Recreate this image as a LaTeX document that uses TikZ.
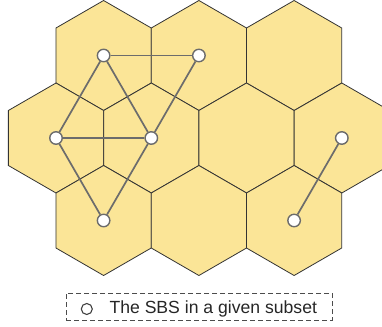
\documentclass[tikz,border=0pt]{standalone}
\usepackage{fontspec}
\setmainfont{Liberation Sans}
\usetikzlibrary{positioning}
\definecolor{cellfill}{RGB}{251,229,151}
\definecolor{linkgray}{RGB}{108,108,108}
\tikzset{>=latex}
\tikzset{cell/.style={fill=cellfill, draw=black!80, line width=0.8pt}}
\tikzset{sbs/.style={circle, draw=linkgray, fill=white, line width=1.4pt, minimum size=12.5pt, inner sep=0pt}}
\tikzset{link/.style={draw=linkgray, line width=1.7pt}}

\begin{document}
\begin{tikzpicture}[x=1pt, y=-1pt]
    \useasboundingbox (0, 0) rectangle (382, 326);
    % hexagonal cells
    \foreach \cx/\cy in {103.6/55.5, 198.9/55.5, 294.1/55.5, 56/138, 151.3/138, 246.5/138, 341.8/138, 103.6/220.5, 198.9/220.5, 294.1/220.5}
        \draw[cell, shift={(\cx, \cy)}](90:55)--(150:55)--(210:55)--(270:55)--(330:55)--(30:55)--cycle;
    % SBSs
    \node[sbs] (s1) at (103.6, 55.5) {};
    \node[sbs] (s2) at (198.9, 55.5) {};
    \node[sbs] (s3) at (56, 138) {};
    \node[sbs] (s4) at (151.3, 138) {};
    \node[sbs] (s5) at (103.6, 220.5) {};
    \node[sbs] (s6) at (341.8, 138) {};
    \node[sbs] (s7) at (294.1, 220.5) {};
    \draw[link](s1)--(s2);
    \draw[link](s1)--(s3);
    \draw[link](s1)--(s4);
    \draw[link](s2)--(s4);
    \draw[link](s3)--(s4);
    \draw[link](s3)--(s5);
    \draw[link](s4)--(s5);
    \draw[link](s6)--(s7);
    % legend
    \node[draw=black!70, dash pattern=on 5pt off 3pt, line width=0.8pt, minimum width=266pt, minimum height=27pt, inner sep=0pt] (legend) at (199, 306.5) {};
    \node[circle, draw=black!75, line width=1.1pt, minimum size=11pt, inner sep=0pt] (key) at (86.8, 309) {};
    \node[right=16.5pt of key, inner sep=0pt, text=black!85, font=\fontsize{17.6}{21}\selectfont] (keytext) {The SBS in a given subset};
\end{tikzpicture}
\end{document}
